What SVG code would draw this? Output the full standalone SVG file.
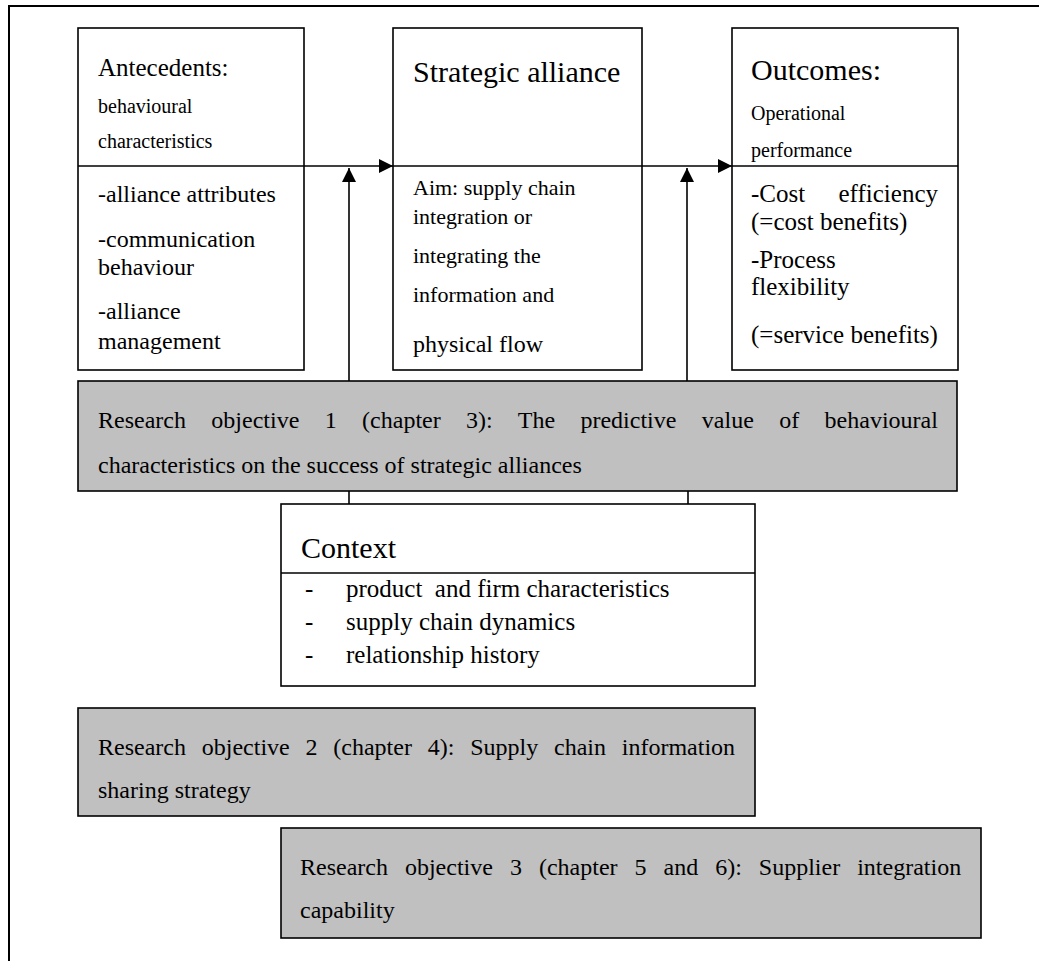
<svg xmlns="http://www.w3.org/2000/svg" width="1039" height="961" viewBox="0 0 1039 961">
<style>
text{font-family:"Liberation Serif","Times New Roman",serif;fill:#000}
.box{fill:#fff;stroke:#000;stroke-width:1.6}
.gray{fill:#c0c0c0;stroke:#000;stroke-width:1.6}
.ln{stroke:#000;stroke-width:1.6;fill:none}
.t30{font-size:30px}
.t25{font-size:25px}
.t24{font-size:24px}
.t22{font-size:22px}
.t20{font-size:20px}
</style>
<defs>
<marker id="ah" viewBox="0 0 10 10" refX="10" refY="5" markerWidth="9" markerHeight="8" markerUnits="userSpaceOnUse" orient="auto" preserveAspectRatio="none">
<path d="M0,0 L10,5 L0,10 Z" fill="#000"/>
</marker>
<marker id="ahu" viewBox="0 0 10 10" refX="10" refY="5" markerWidth="14" markerHeight="14" markerUnits="userSpaceOnUse" orient="auto" preserveAspectRatio="none">
<path d="M0,0 L10,5 L0,10 Z" fill="#000"/>
</marker>
</defs>
<rect x="9" y="6" width="1050" height="980" fill="#fff" stroke="#000" stroke-width="2"/>

<g id="antecedents">
<rect class="box" x="78" y="28" width="226" height="342"/>
<line class="ln" x1="78" y1="166" x2="304" y2="166"/>
<text class="t25" x="98" y="76">Antecedents:</text>
<text class="t20" x="98" y="113">behavioural</text>
<text class="t20" x="98" y="148">characteristics</text>
<text class="t24" x="98" y="202">-alliance attributes</text>
<text class="t24" x="98" y="247">-communication</text>
<text class="t24" x="98" y="275">behaviour</text>
<text class="t24" x="98" y="319">-alliance</text>
<text class="t24" x="98" y="349">management</text>
</g>

<g id="strategic">
<rect class="box" x="393" y="28" width="249" height="342"/>
<line class="ln" x1="393" y1="166" x2="642" y2="166"/>
<text class="t30" x="413" y="82">Strategic alliance</text>
<text class="t22" x="413" y="195">Aim: supply chain</text>
<text class="t22" x="413" y="224">integration or</text>
<text class="t22" x="413" y="263">integrating the</text>
<text class="t22" x="413" y="302">information and</text>
<text class="t24" x="413" y="352">physical flow</text>
</g>

<g id="outcomes">
<rect class="box" x="732" y="28" width="226" height="342"/>
<line class="ln" x1="732" y1="166" x2="958" y2="166"/>
<text class="t30" x="751" y="80">Outcomes:</text>
<text class="t20" x="751" y="120">Operational</text>
<text class="t20" x="751" y="157">performance</text>
<text class="t25" x="751" y="202">-Cost</text>
<text class="t25" x="938" y="202" text-anchor="end">efficiency</text>
<text class="t25" x="751" y="230">(=cost benefits)</text>
<text class="t25" x="751" y="268">-Process</text>
<text class="t25" x="751" y="295">flexibility</text>
<text class="t25" x="751" y="343">(=service benefits)</text>
</g>

<g id="objective1">
<rect class="gray" x="78" y="381" width="879" height="110"/>
<text class="t24" x="98" y="428" word-spacing="19.4">Research objective 1 (chapter 3): The predictive value of behavioural</text>
<text class="t24" x="98" y="473">characteristics on the success of strategic alliances</text>
</g>

<g id="context">
<rect class="box" x="281" y="504" width="474" height="182"/>
<line class="ln" x1="281" y1="573" x2="755" y2="573"/>
<text class="t30" x="301" y="558">Context</text>
<text class="t25" x="305" y="597">-</text>
<text class="t25" x="346" y="597" xml:space="preserve">product  and firm characteristics</text>
<text class="t25" x="305" y="630">-</text>
<text class="t25" x="346" y="630">supply chain dynamics</text>
<text class="t25" x="305" y="663">-</text>
<text class="t25" x="346" y="663">relationship history</text>
</g>

<g id="objective2">
<rect class="gray" x="78" y="708" width="677" height="108"/>
<text class="t24" x="98" y="755" word-spacing="9.8">Research objective 2 (chapter 4): Supply chain information</text>
<text class="t24" x="98" y="798">sharing strategy</text>
</g>

<g id="objective3">
<rect class="gray" x="281" y="828" width="700" height="110"/>
<text class="t24" x="300" y="875" word-spacing="11">Research objective 3 (chapter 5 and 6): Supplier integration</text>
<text class="t24" x="300" y="918">capability</text>
</g>

<g id="connectors">
<line class="ln" x1="304" y1="166" x2="393" y2="166" marker-end="url(#ahu)"/>
<line class="ln" x1="642" y1="166" x2="732" y2="166" marker-end="url(#ahu)"/>
<line class="ln" x1="349" y1="381" x2="349" y2="168" marker-end="url(#ahu)"/>
<line class="ln" x1="687" y1="381" x2="687" y2="168" marker-end="url(#ahu)"/>
<line class="ln" x1="349" y1="491" x2="349" y2="504"/>
<line class="ln" x1="688" y1="491" x2="688" y2="504"/>
</g>
</svg>
